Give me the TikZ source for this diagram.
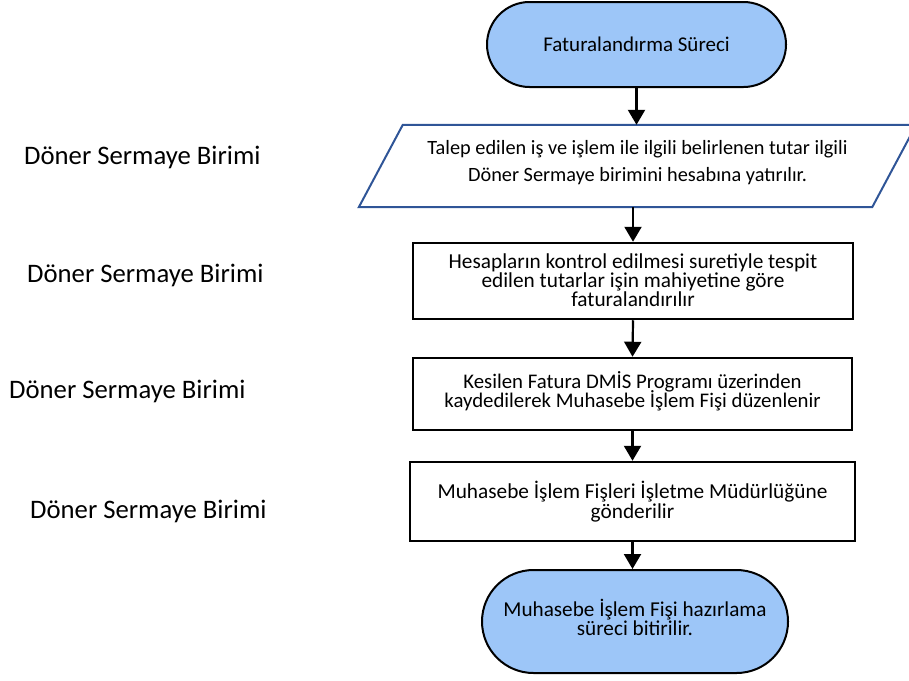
\documentclass[tikz,border=0pt]{standalone}
\usepackage{fontspec}
\setmainfont{Carlito}
\usetikzlibrary{arrows.meta,shapes.misc}
\definecolor{termblue}{HTML}{9DC6F8}
\definecolor{parablue}{HTML}{2F5597}
\newcommand{\tightfont}[2]{\fontsize{#1}{#2}\selectfont\lineskiplimit=-100pt\relax}
\tikzset{
  term/.style={rounded rectangle, draw=black, line width=2pt, fill=termblue, align=center, inner sep=0pt},
  procbox/.style={rectangle, draw=black, line width=2.5pt, align=center, inner sep=0pt},
  boxtext/.style={align=center, inner sep=0pt},
  paratext/.style={rectangle, draw=none, align=center, inner sep=0pt, minimum width=513pt, minimum height=82pt},
  paraline/.style={draw=parablue, line width=2pt, line join=miter},
  flow/.style={line width=2.2pt, -{Triangle[length=15pt,width=17pt]}},
  lanelabel/.style={anchor=base west, inner sep=0pt, font=\fontsize{26.7}{31}\selectfont}
}
\begin{document}
\begin{tikzpicture}[x=1pt,y=-1pt]
\useasboundingbox (0,0) rectangle (909,680);
% start
\node[term, minimum width=299pt, minimum height=85pt, font=\fontsize{21}{26}\selectfont] (start) at (636.5,44.5) {Faturalandırma Süreci};
% parallelogram
\node[paratext] (para) at (637.5,166) {};
\node[boxtext, font=\tightfont{20.3}{27}] (parat) at ([yshift=3pt]para.center) {Talep edilen iş ve işlem ile ilgili belirlenen tutar ilgili\\Döner Sermaye birimini hesabına yatırılır.};
\draw[paraline] ([xshift=22pt]para.north west) -- ([xshift=22pt]para.north east) -- ([xshift=-22pt]para.south east) -- ([xshift=-22pt]para.south west) -- cycle;
% boxes
\node[procbox, minimum width=440pt, minimum height=76pt] (b2) at (633,281) {};
\node[boxtext, font=\tightfont{21.3}{19}] (b2t) at ([yshift=1pt]b2.center) {Hesapların kontrol edilmesi suretiyle tespit\\edilen tutarlar işin mahiyetine göre\\faturalandırılır};
\node[procbox, minimum width=439pt, minimum height=72pt] (b3) at (632.5,394) {};
\node[boxtext, font=\tightfont{20.8}{19}] (b3t) at ([yshift=3pt]b3.center) {Kesilen Fatura DMİS Programı üzerinden\\kaydedilerek Muhasebe İşlem Fişi düzenlenir};
\node[procbox, minimum width=445pt, minimum height=79pt, font=\tightfont{21.3}{19.5}] (b4) at (632.5,501.5) {Muhasebe İşlem Fişleri İşletme Müdürlüğüne\\gönderilir};
% end
\node[term, minimum width=306pt, minimum height=103pt] (end) at (635,621.5) {};
\node[boxtext, font=\tightfont{21.2}{19}] (endt) at ([yshift=4pt]end.center) {Muhasebe İşlem Fişi hazırlama\\süreci bitirilir.};
% connectors
\draw[flow] (start.south) -- (start.south |- para.north);
\draw[flow] (para.south -| b2.north) -- (b2.north);
\draw[flow] (b2.south) -- (b3.north);
\draw[flow] (b3.south) -- (b4.north);
\draw[flow] (b4.south) -- (b4.south |- end.north);
% lane labels
\node[lanelabel] (l1) at (24,164) {Döner Sermaye Birimi};
\node[lanelabel] (l2) at (27,282) {Döner Sermaye Birimi};
\node[lanelabel] (l3) at (9,398) {Döner Sermaye Birimi};
\node[lanelabel] (l4) at (30,518) {Döner Sermaye Birimi};
\end{tikzpicture}
\end{document}
